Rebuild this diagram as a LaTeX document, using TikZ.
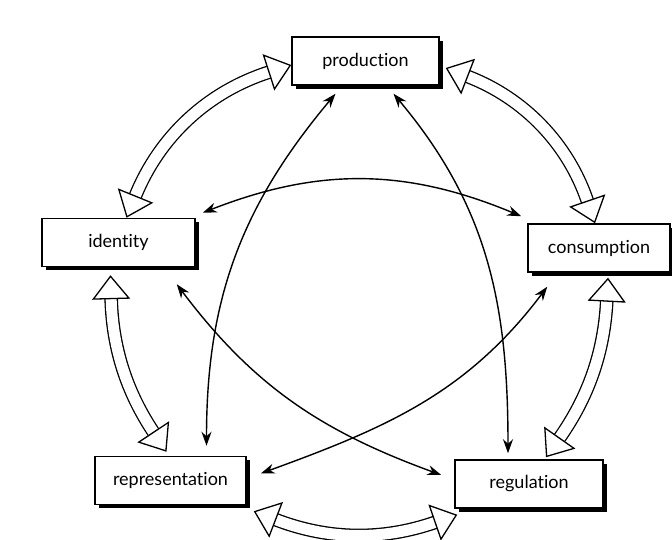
\documentclass[tikz,border=0pt]{standalone}
\usepackage{fontspec}
\setmainfont{Lato}[Ligatures=NoCommon]
\usetikzlibrary{arrows.meta,shadows}
\tikzset{
  box/.style={draw,line width=1.5pt,fill=white,minimum width=#1,minimum height=48pt,
    inner sep=0pt,font=\fontsize{18}{20}\selectfont,
    drop shadow={shadow xshift=4pt,shadow yshift=-4pt,fill=black,opacity=1}},
  hollow/.style={double,double distance=11pt,line width=1.3pt,
    {Triangle[length=24pt,width=38pt,fill=white]}-{Triangle[length=24pt,width=38pt,fill=white]}},
  link/.style={line width=1.4pt,{Stealth[length=14pt,width=10pt]}-{Stealth[length=14pt,width=10pt]}}
}
\begin{document}
\begin{tikzpicture}[x=1pt,y=1pt]
  \fill[white] (0,0) rectangle (672,540);
  \useasboundingbox (0,0) rectangle (672,540);

  \node [box=147pt] (production) at (365.5,479) {production};
  \node [box=153pt] (identity) at (118.5,297.5) {identity};
  \node [box=142pt] (consumption) at (599,292) {consumption};
  \node [box=151pt] (representation) at (170.5,59.5) {representation};
  \node [box=148pt] (regulation) at (529,56) {regulation};

  % outer circle
  \draw [hollow] ([yshift=-4pt]production.west) to [bend right=25] ([xshift=8pt]identity.north);
  \draw [hollow] ([xshift=6pt,yshift=-7pt]production.east) to [bend left=25] ([xshift=-4pt]consumption.north);
  \draw [hollow] ([xshift=-8pt,yshift=-8pt]identity.south) to [bend right=16] ([xshift=-4pt,yshift=4pt]representation.north);
  \draw [hollow] ([xshift=9pt,yshift=-5pt]consumption.south) to [bend left=16] ([xshift=17pt,yshift=2pt]regulation.north);
  \draw [hollow] ([xshift=7pt,yshift=-6pt]representation.south east) to [bend right=20] ([xshift=3pt,yshift=-6pt]regulation.south west);

  % inner links
  \draw [link] ([shift={(7pt,5pt)}]identity.north east) to [bend left=22] ([shift={(-6pt,7pt)}]consumption.north west);
  \draw [link] ([xshift=-30pt,yshift=-8pt]production.south) to [out=230,in=90] ([xshift=36pt,yshift=10pt]representation.north);
  \draw [link] ([xshift=28pt,yshift=-8pt]production.south) to [out=-50,in=90] ([xshift=-21pt,yshift=6pt]regulation.north);
  \draw [link] ([shift={(-19pt,-17pt)}]identity.south east) to [out=-53,in=160] ([shift={(-13pt,9pt)}]regulation.west);
  \draw [link] ([shift={(20pt,-14pt)}]consumption.south west) to [out=233,in=20] ([shift={(14pt,7pt)}]representation.east);
\end{tikzpicture}
\end{document}
